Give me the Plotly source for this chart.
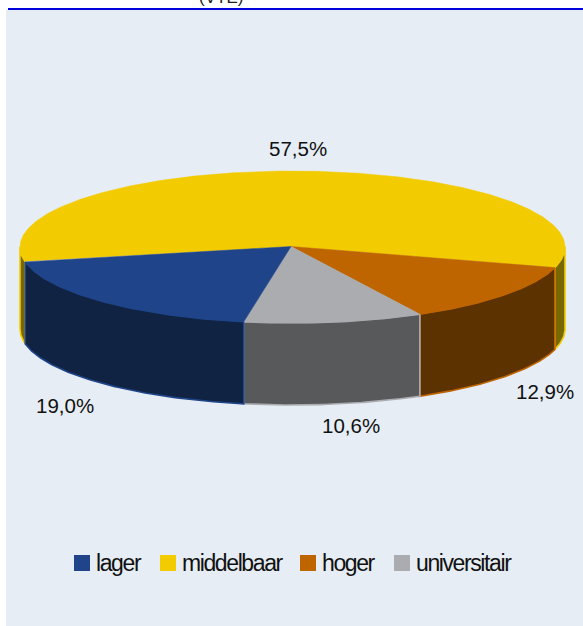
import numpy as np
import plotly.graph_objects as go

categories = ["middelbaar", "hoger", "universitair", "lager"]
values = [57.5, 12.9, 10.6, 19.0]
legend_order = ["lager", "middelbaar", "hoger", "universitair"]

top_colors = {"lager": "#1F4489", "middelbaar": "#F2CB00", "hoger": "#BF6500", "universitair": "#ABACB0"}
wall_colors = {"lager": "#102342", "middelbaar": "#786800", "hoger": "#5C3200", "universitair": "#58595B"}

W, H = 583, 626
CX, CY = 292.5, 247.0
HX, HY = 291.0, 246.5
RX, RY = 272.5, 76.0
DEPTH = 82.0
START = 15.7 - 207.0   # parametric angle where the first slice begins (clockwise on screen)

label_pos = {"middelbaar": (298, 148), "hoger": (545, 391), "universitair": (351, 425), "lager": (65, 405)}
legend_swatch_x = {"lager": 82, "middelbaar": 168, "hoger": 308, "universitair": 402}
legend_text_x = {"lager": 96, "middelbaar": 182, "hoger": 322, "universitair": 416}
LEGEND_Y = 563

fig = go.Figure()

def arc(a0, a1):
    t = np.radians(np.linspace(a0, a1, max(int(abs(a1 - a0) * 2), 2)))
    return CX + RX * np.cos(t), CY + RY * np.sin(t)

# slice spans
spans = {}
a = START
for c, v in zip(categories, values):
    b = a + v * 3.6
    spans[c] = (a, b)
    a = b

# side walls (only the front-facing part, sin(t) >= 0)
wall_parts = []
for c in categories:
    a0, b0 = spans[c]
    if c == "middelbaar":
        wall_parts.append((c, a0, -180.0))
        wall_parts.append((c, 0.0, b0))
    else:
        wall_parts.append((c, a0, b0))

for c, a0, b0 in wall_parts:
    x, y = arc(a0, b0)
    fig.add_trace(go.Scatter(
        x=np.r_[x, x[::-1], x[0]], y=np.r_[y, y[::-1] + DEPTH, y[0]],
        mode="lines", fill="toself", fillcolor=wall_colors[c],
        line=dict(color=top_colors[c], width=1.6),
        hoverinfo="skip", showlegend=False))

# top faces
for c, v in zip(categories, values):
    a0, b0 = spans[c]
    x, y = arc(a0, b0)
    fig.add_trace(go.Scatter(
        x=np.r_[HX, x, HX], y=np.r_[HY, y, HY],
        mode="lines", fill="toself", fillcolor=top_colors[c],
        line=dict(color=top_colors[c], width=0.5),
        name=c, hoverinfo="name", showlegend=False))

# value labels
for c, v in zip(categories, values):
    px, py = label_pos[c]
    fig.add_annotation(x=px, y=py, text=f"{v:.1f}%".replace(".", ","), showarrow=False,
                       xanchor="center", yanchor="middle",
                       font=dict(family="Liberation Sans", size=20.5, color="#111111"))

# legend
for c in legend_order:
    fig.add_trace(go.Scatter(
        x=[legend_swatch_x[c]], y=[LEGEND_Y], mode="markers",
        marker=dict(symbol="square", size=16, color=top_colors[c]),
        hoverinfo="skip", showlegend=False))
    fig.add_annotation(x=legend_text_x[c], y=LEGEND_Y, showarrow=False,
                       text=f'<span style="letter-spacing:-1.4px">{c}</span>',
                       xanchor="left", yanchor="middle", xshift=-2,
                       font=dict(family="Liberation Sans", size=23, color="#111111"))

# cut-off title remnant at the top of the picture
fig.add_annotation(xref="x", yref="paper", x=221, y=1, yanchor="bottom", yshift=-9, text="(VTE)",
                   showarrow=False, xanchor="center",
                   font=dict(family="Liberation Sans", size=17, color="#222222"))

fig.update_layout(
    width=W, height=H, margin=dict(l=0, r=0, t=0, b=0), paper_bgcolor="#FFFFFF", plot_bgcolor="#FFFFFF",
    showlegend=False,
    xaxis=dict(range=[0, W], visible=False, fixedrange=True),
    yaxis=dict(range=[H, 0], visible=False, fixedrange=True),
    shapes=[
        dict(type="rect", layer="below", x0=6, x1=W, y0=10, y1=H, fillcolor="#E6EDF5", line_width=0),
        dict(type="line", layer="below", x0=8, x1=W, y0=9, y1=9, line=dict(color="#0000DD", width=2)),
    ],
)

fig.write_html("out.html", config=dict(displayModeBar=False),
               post_script="document.body.style.margin='0';document.body.style.overflow='hidden';")
